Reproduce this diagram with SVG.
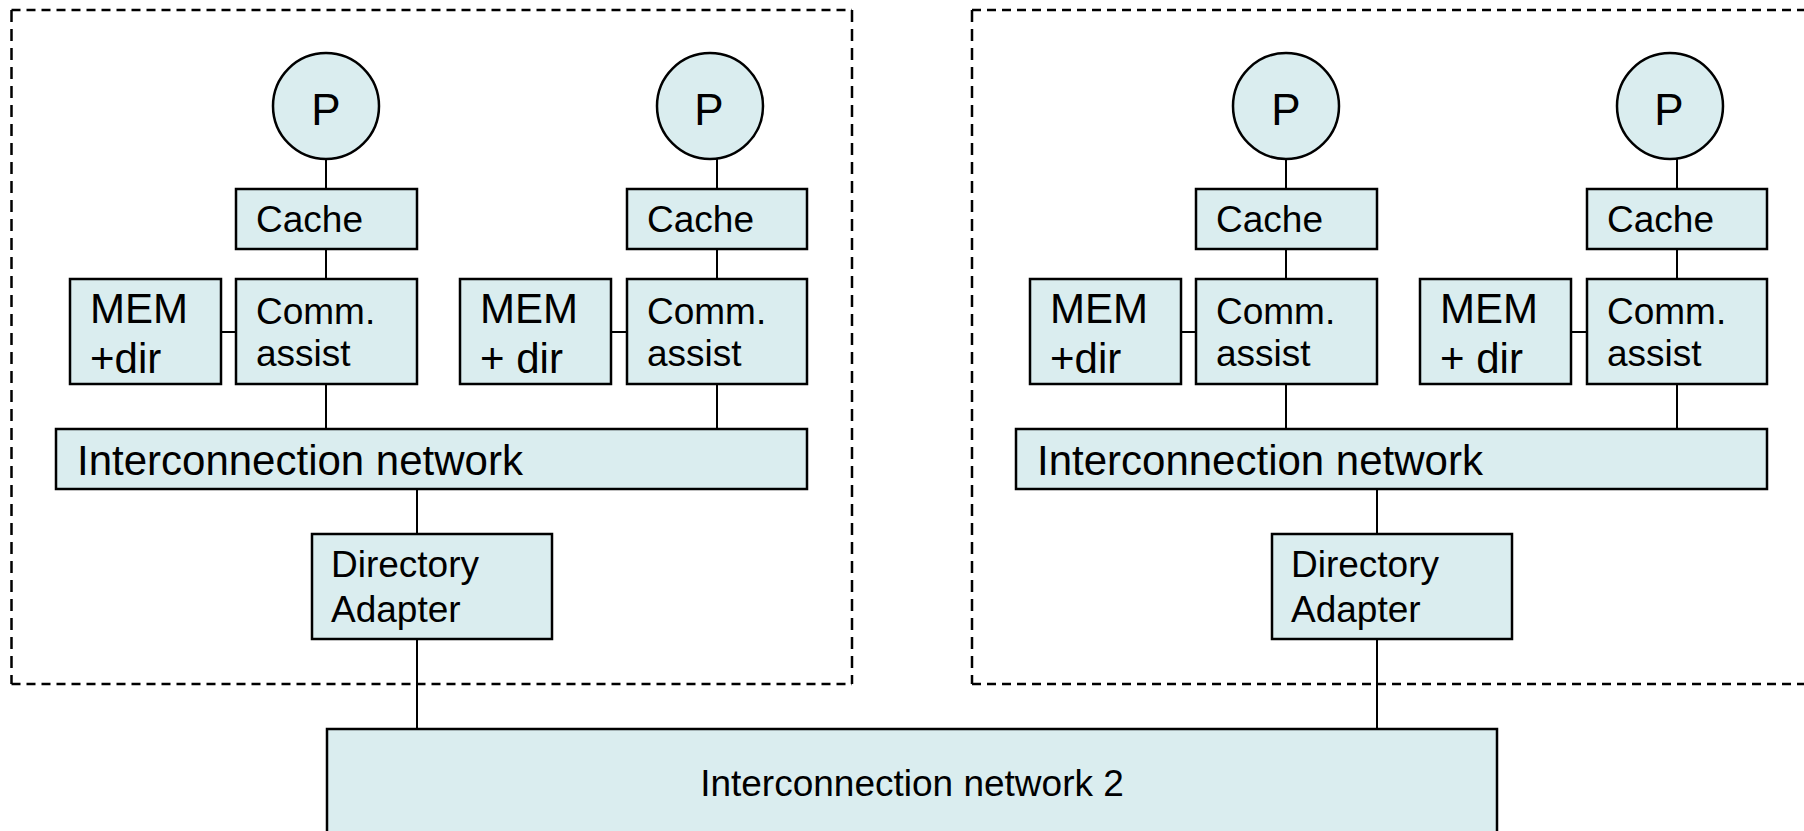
<svg xmlns="http://www.w3.org/2000/svg" width="1804" height="831" viewBox="0 0 1804 831">
<style>
.box{fill:#daedef;stroke:#000;stroke-width:2.5}
.dh{fill:none;stroke:#000;stroke-width:2.5;stroke-dasharray:9,6}
.dv{fill:none;stroke:#000;stroke-width:2.5;stroke-dasharray:12,7}
.ln{stroke:#000;stroke-width:2;fill:none}
text{font-family:"Liberation Sans",Arial,sans-serif;fill:#000}
.p{font-size:44px;text-anchor:middle}
.m{font-size:42px}
.s{font-size:37px}
</style>
<rect width="1804" height="831" fill="#fff"/>
<g id="cluster-left">
<path class="dh" d="M11.5,10H852M11.5,684H852"/>
<path class="dv" d="M11.5,10V684M852,10V684"/>
</g>
<g id="cluster-right">
<path class="dh" d="M972,10H1812M972,684H1812"/>
<path class="dv" d="M972,10V684"/>
</g>
<g id="connectors">
<path class="ln" d="M326,159V189M326,249V279M326,384V429M221,332H236"/>
<path class="ln" d="M717,158V189M717,249V279M717,384V429M611,332H627"/>
<path class="ln" d="M417,489V534M417,639V729"/>
<path class="ln" d="M1286,159V189M1286,249V279M1286,384V429M1181,332H1196"/>
<path class="ln" d="M1677,158V189M1677,249V279M1677,384V429M1571,332H1587"/>
<path class="ln" d="M1377,489V534M1377,639V729"/>
</g>
<g id="p1"><circle class="box" cx="326" cy="106" r="53"/><text class="p" x="326" y="125">P</text></g>
<g id="cache1"><rect class="box" x="236" y="189" width="181" height="60"/><text class="s" x="256" y="232">Cache</text></g>
<g id="comm1"><rect class="box" x="236" y="279" width="181" height="105"/><text class="s" x="256" y="324">Comm.</text><text class="s" x="256" y="366">assist</text></g>
<g id="mem1"><rect class="box" x="70" y="279" width="151" height="105"/><text class="m" x="90" y="323">MEM</text><text class="m" x="90" y="373">+dir</text></g>
<g id="p2"><circle class="box" cx="710" cy="106" r="53"/><text class="p" x="709" y="125">P</text></g>
<g id="cache2"><rect class="box" x="627" y="189" width="180" height="60"/><text class="s" x="647" y="232">Cache</text></g>
<g id="comm2"><rect class="box" x="627" y="279" width="180" height="105"/><text class="s" x="647" y="324">Comm.</text><text class="s" x="647" y="366">assist</text></g>
<g id="mem2"><rect class="box" x="460" y="279" width="151" height="105"/><text class="m" x="480" y="323">MEM</text><text class="m" x="480" y="373">+ dir</text></g>
<g id="net1"><rect class="box" x="56" y="429" width="751" height="60"/><text class="m" x="77" y="475">Interconnection network</text></g>
<g id="dir1"><rect class="box" x="312" y="534" width="240" height="105"/><text class="s" x="331" y="577">Directory</text><text class="s" x="331" y="622">Adapter</text></g>
<g id="p3"><circle class="box" cx="1286" cy="106" r="53"/><text class="p" x="1286" y="125">P</text></g>
<g id="cache3"><rect class="box" x="1196" y="189" width="181" height="60"/><text class="s" x="1216" y="232">Cache</text></g>
<g id="comm3"><rect class="box" x="1196" y="279" width="181" height="105"/><text class="s" x="1216" y="324">Comm.</text><text class="s" x="1216" y="366">assist</text></g>
<g id="mem3"><rect class="box" x="1030" y="279" width="151" height="105"/><text class="m" x="1050" y="323">MEM</text><text class="m" x="1050" y="373">+dir</text></g>
<g id="p4"><circle class="box" cx="1670" cy="106" r="53"/><text class="p" x="1669" y="125">P</text></g>
<g id="cache4"><rect class="box" x="1587" y="189" width="180" height="60"/><text class="s" x="1607" y="232">Cache</text></g>
<g id="comm4"><rect class="box" x="1587" y="279" width="180" height="105"/><text class="s" x="1607" y="324">Comm.</text><text class="s" x="1607" y="366">assist</text></g>
<g id="mem4"><rect class="box" x="1420" y="279" width="151" height="105"/><text class="m" x="1440" y="323">MEM</text><text class="m" x="1440" y="373">+ dir</text></g>
<g id="net2"><rect class="box" x="1016" y="429" width="751" height="60"/><text class="m" x="1037" y="475">Interconnection network</text></g>
<g id="dir2"><rect class="box" x="1272" y="534" width="240" height="105"/><text class="s" x="1291" y="577">Directory</text><text class="s" x="1291" y="622">Adapter</text></g>
<g id="net-global"><rect class="box" x="327" y="729" width="1170" height="120"/><text class="s" x="912" y="796" text-anchor="middle">Interconnection network 2</text></g>
</svg>
